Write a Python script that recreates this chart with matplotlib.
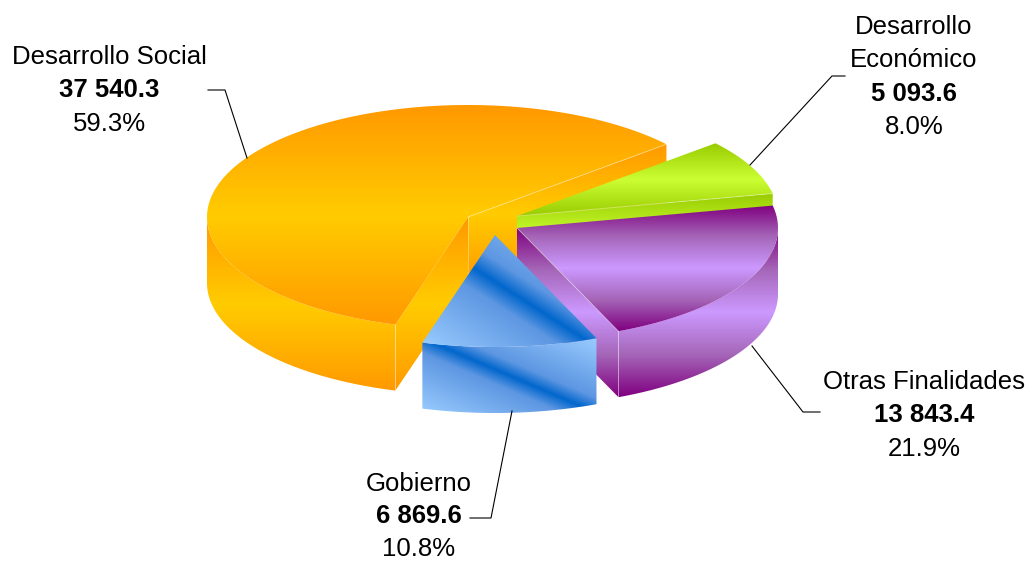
import numpy as np
import matplotlib
matplotlib.use("Agg")
import matplotlib.pyplot as plt
from matplotlib.colors import LinearSegmentedColormap
from matplotlib.patches import Polygon

# --- data -----------------------------------------------------------------
categories = ["Desarrollo Social", "Gobierno", "Otras Finalidades", "Desarrollo\nEconómico"]
values = [37540.3, 6869.6, 13843.4, 5093.6]

# --- styling --------------------------------------------------------------
start_angle = 40.5
rx, ry, depth = 261, 112, 66
centers = [(468, 217), (495, 235), (517, 228), (517, 216)]
ramps = [
    [(0, "#FF9900"), (0.5, "#FFCC00"), (1, "#FF9900")],
    [(0, "#99CCFF"), (0.40, "#5E97E2"), (0.5, "#0066CC"), (0.60, "#5E97E2"), (1, "#99CCFF")],
    [(0, "#800080"), (0.25, "#A566B8"), (0.5, "#CC99FF"), (0.75, "#A566B8"), (1, "#800080")],
    [(0, "#99CC00"), (0.5, "#CCFF33"), (1, "#99CC00")],
]
diagonal = [False, True, False, False]
draw_order = [0, 3, 2, 1]
label_x = [109, 419, 924, 914]
label_y = [55, 482, 380, 25]
label_gap = [33.6, 32.6, 33.6, 33.6]
leaders = [
    [(208, 90), (225, 90), (247, 158)],
    [(470, 518), (491, 518), (512, 411)],
    [(820, 412), (803, 412), (752, 346)],
    [(845, 76), (832, 76), (750, 165)],
]
plt.rcParams["font.family"] = ["Liberation Sans", "DejaVu Sans"]
fontsize = 18.5

fig = plt.figure(figsize=(10.28, 5.61), dpi=100)
ax = fig.add_axes([0, 0, 1, 1])
z = [1]


def arc(c, a0, a1, n=160):
    t = np.radians(np.linspace(a0, a1, n))
    return np.column_stack([c[0] + rx * np.cos(t), c[1] - ry * np.sin(t)])


def fill(poly, ramp, diag):
    poly = np.asarray(poly)
    x0, y0 = poly.min(axis=0)
    x1, y1 = poly.max(axis=0)
    cmap = LinearSegmentedColormap.from_list("r", ramp)
    u, v = np.meshgrid(np.linspace(0, 1, 256), np.linspace(0, 1, 256))
    data = (u - v + 1) / 2 if diag else v
    im = ax.imshow(data, cmap=cmap, vmin=0, vmax=1, origin="upper",
                   extent=(x0, x1, y1, y0), aspect="auto", zorder=z[0],
                   interpolation="bilinear")
    patch = Polygon(poly, closed=True, transform=ax.transData, fc="none", ec="none")
    ax.add_patch(patch)
    im.set_clip_path(patch)
    z[0] += 1


def edge(p, q):
    ax.plot([p[0], q[0]], [p[1], q[1]], color="#FFFFFF", lw=0.7, alpha=0.35, zorder=z[0])
    z[0] += 1


total = sum(values)
spans = [v / total * 360 for v in values]
bounds = start_angle + np.concatenate([[0], np.cumsum(spans)])

for i in draw_order:
    a0, a1 = bounds[i], bounds[i + 1]
    c = np.array(centers[i], float)
    down = np.array([0, depth])
    ramp, diag = ramps[i], diagonal[i]
    # visible cut faces
    if -np.cos(np.radians(a0)) < 0:
        e = arc(c, a0, a0, 1)[0]
        fill([c, e, e + down, c + down], ramp, diag)
    if np.cos(np.radians(a1)) < 0:
        e = arc(c, a1, a1, 1)[0]
        fill([c, e, e + down, c + down], ramp, diag)
        edge(c, c + down)
    # outer wall (front half only)
    w0, w1 = max(a0, 180), min(a1, 360)
    if w1 > w0:
        top = arc(c, w0, w1)
        fill(np.vstack([top, (top + down)[::-1]]), ramp, diag)
        if not diag:
            # corner between the wall and the cut face
            corner = top[-1] if a1 < 360 else top[0]
            edge(corner, corner + down)
    # top face
    rim = arc(c, a0, a1)
    fill(np.vstack([c, rim]), ramp, diag)
    if not diag:
        edge(c, rim[0])

# --- leaders and labels ---------------------------------------------------
for pts in leaders:
    xs, ys = zip(*pts)
    ax.plot(xs, ys, color="#000000", lw=0.8, zorder=z[0] + 1, solid_joinstyle="miter")

for name, v, lx, ly, gap in zip(categories, values, label_x, label_y, label_gap):
    rows = [(t, "normal") for t in name.split("\n")]
    rows.append((f"{v:,.1f}".replace(",", " "), "bold"))
    rows.append((f"{v / total * 100:.1f}%", "normal"))
    for k, (t, w) in enumerate(rows):
        ax.text(lx, ly + 1.5 + k * gap, t, ha="center", va="center", fontsize=fontsize,
                fontweight=w, color="black", zorder=z[0] + 2)

ax.set_xlim(0, 1028)
ax.set_ylim(561, 0)
ax.axis("off")
fig.savefig("out.png", dpi=100, facecolor="white")
